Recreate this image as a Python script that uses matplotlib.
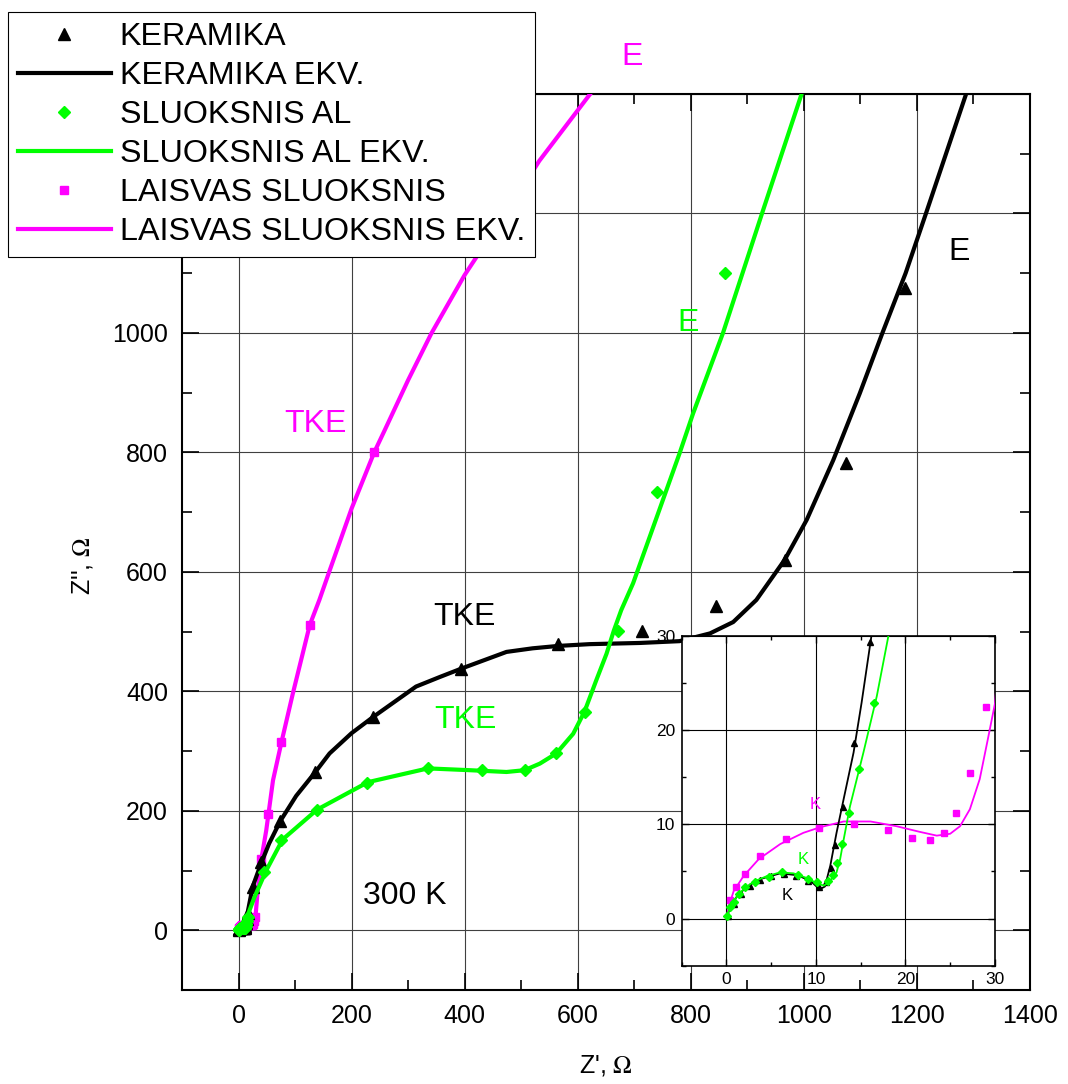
import matplotlib
matplotlib.use("Agg")
import matplotlib.pyplot as plt
from matplotlib.ticker import MultipleLocator

plt.rcParams['font.family'] = ['Liberation Sans', 'DejaVu Sans']
plt.rcParams['mathtext.fontset'] = 'stix'

GREEN = '#00ff00'
MAGENTA = '#ff00ff'

# KERAMIKA - measured points
ker_x = [0.2, 0.8, 1.6, 2.6, 3.7, 5.0, 6.4, 7.8, 9.1, 10.3, 11.1, 11.7, 12.1, 13.0, 14.2, 16.0,
         25, 39, 74, 136, 238, 394, 565, 713, 844, 966, 1075, 1179]
ker_y = [0.3, 1.5, 2.6, 3.5, 4.1, 4.5, 4.7, 4.5, 4.0, 3.4, 3.9, 5.4, 7.8, 11.8, 18.6, 29.3,
         72, 114, 183, 265, 357, 438, 479, 501, 543, 620, 782, 1075]

# KERAMIKA EKV. - equivalent circuit curve
ker_fit_x = [0, 0.45, 1.2, 2.3, 3.8, 6.0, 7.9, 9.4, 10.4, 11.0, 11.6, 12.3, 13.1, 14.2, 15.1, 16.2,
             25, 40, 54, 74, 102, 136, 161, 200, 238, 314, 356, 394, 474, 520, 565, 621, 710, 780,
             834, 875, 916, 966, 1005, 1052, 1099, 1139, 1180, 1216, 1287]
ker_fit_y = [0, 1.3, 2.4, 3.4, 4.2, 4.8, 4.6, 4.0, 3.1, 3.4, 5.6, 9.1, 12.7, 17.6, 22.9, 30.0,
             73, 112, 145, 183, 225, 265, 296, 330, 357, 408, 424, 438, 466, 472, 476, 479, 481, 484,
             497, 516, 553, 620, 687, 787, 899, 1000, 1100, 1200, 1400]

# SLUOKSNIS AL - measured points
al_x = [0.1, 0.4, 0.8, 1.4, 2.1, 3.2, 4.7, 6.2, 8.0, 9.1, 10.1, 11.3, 11.9, 12.3, 12.9, 13.7, 14.8, 16.5,
        45, 76, 138, 228, 335, 431, 506, 562, 612, 671, 741, 861]
al_y = [0.3, 1.2, 1.8, 2.6, 3.3, 3.9, 4.4, 4.9, 4.6, 4.2, 3.9, 4.0, 4.6, 5.9, 7.9, 11.2, 15.9, 22.9,
        97, 151, 202, 247, 271, 269, 268, 296, 366, 501, 734, 1101]

# SLUOKSNIS AL EKV.
al_fit_x = [0, 0.3, 0.9, 1.8, 3.0, 4.5, 6.0, 7.5, 9.0, 10.2, 10.9, 11.5, 12.3, 12.7, 13.1, 13.8, 15.3,
            16.8, 18.1, 28, 49, 78, 139, 229, 335, 409, 474, 506, 533, 562, 592, 612, 633, 651,
            664, 677, 698, 780, 804, 857, 926, 996]
al_fit_y = [0, 1.0, 2.0, 3.0, 3.9, 4.5, 4.9, 4.8, 4.3, 3.7, 3.5, 3.9, 4.9, 6.3, 8.4, 11.9, 17.6,
            23.6, 30, 55, 100, 152, 202, 248, 271, 268, 265, 268, 279, 296, 329, 366, 419, 463,
            502, 536, 581, 798, 865, 1000, 1200, 1400]

# LAISVAS SLUOKSNIS - measured points
las_x = [0.45, 1.1, 2.1, 3.8, 6.6, 10.3, 14.3, 18.0, 20.7, 22.7, 24.3, 25.6, 27.2, 29.0,
         40, 52, 76, 126, 240]
las_y = [2.0, 3.3, 4.7, 6.6, 8.4, 9.6, 10.0, 9.4, 8.5, 8.3, 9.1, 11.2, 15.4, 22.4,
         120, 194, 315, 511, 800]

# LAISVAS SLUOKSNIS EKV.
las_fit_x = [0, 0.26, 0.8, 1.9, 3.6, 6.0, 8.6, 10.5, 13.1, 16.1, 19.0, 21.6, 23.5, 25.0, 26.1, 27.2,
             28.3, 29.2, 30.0, 34, 40, 49, 61, 76, 96, 126, 143, 160, 200, 240, 259, 300, 341,
             400, 423, 480, 532, 622]
las_fit_y = [0, 1.3, 2.9, 4.5, 6.3, 7.9, 9.1, 9.7, 10.3, 10.3, 9.8, 9.2, 8.8, 9.0, 9.8, 11.6,
             14.8, 19.0, 22.8, 67, 117, 167, 251, 315, 396, 511, 553, 599, 706, 800, 838, 921, 999,
             1097, 1130, 1210, 1288, 1400]

fig = plt.figure(figsize=(10.68, 10.84), dpi=100)
ax = fig.add_axes([0.1704, 0.0867, 0.794, 0.8266])

l_las_fit, = ax.plot(las_fit_x, las_fit_y, color=MAGENTA, lw=3, zorder=3)
l_las, = ax.plot(las_x, las_y, 's', color=MAGENTA, ms=5.5, zorder=3)
l_ker_fit, = ax.plot(ker_fit_x, ker_fit_y, color='black', lw=3, zorder=4)
l_ker, = ax.plot(ker_x, ker_y, '^', color='black', ms=8.5, zorder=4)
l_al_fit, = ax.plot(al_fit_x, al_fit_y, color=GREEN, lw=3, zorder=5)
l_al, = ax.plot(al_x, al_y, 'D', color=GREEN, ms=6.5, zorder=5)

ax.set_xlim(-100, 1400)
ax.set_ylim(-100, 1400)
ax.xaxis.set_major_locator(MultipleLocator(200))
ax.xaxis.set_minor_locator(MultipleLocator(100))
ax.yaxis.set_major_locator(MultipleLocator(200))
ax.yaxis.set_minor_locator(MultipleLocator(100))
ax.tick_params(which='both', direction='in', top=True, right=True, labelsize=18, pad=10, width=1.2)
ax.tick_params(which='major', length=12)
ax.tick_params(which='minor', length=7)
ax.grid(True, which='major', color='#404040', linewidth=0.8)
ax.set_axisbelow(True)
for s in ax.spines.values():
    s.set_linewidth(1.5)

ax.set_xlabel("Z', $\\Omega$", fontsize=18)
ax.xaxis.set_label_coords(0.5, -0.070)
ax.set_ylabel("Z'', $\\Omega$", fontsize=18)
ax.yaxis.set_label_coords(-0.103, 0.474)

ax.text(697, 1462, 'E', color=MAGENTA, fontsize=23, ha='center', va='center', clip_on=False)
ax.text(1274, 1135, 'E', color='black', fontsize=23, ha='center', va='center')
ax.text(795, 1016, 'E', color=GREEN, fontsize=23, ha='center', va='center')
ax.text(136, 848, 'TKE', color=MAGENTA, fontsize=23, ha='center', va='center')
ax.text(400, 524, 'TKE', color='black', fontsize=23, ha='center', va='center')
ax.text(402, 352, 'TKE', color=GREEN, fontsize=23, ha='center', va='center')
ax.text(294, 57, '300 K', color='black', fontsize=23, ha='center', va='center')

# inset with the high frequency part
ins = fig.add_axes([0.6383, 0.1091, 0.2933, 0.3044])
ins.plot(las_fit_x, las_fit_y, color=MAGENTA, lw=1.3, zorder=3)
ins.plot(las_x, las_y, 's', color=MAGENTA, ms=4, zorder=3)
ins.plot(ker_fit_x, ker_fit_y, color='black', lw=1.3, zorder=4)
ins.plot(ker_x, ker_y, '^', color='black', ms=4, zorder=4)
ins.plot(al_fit_x, al_fit_y, color=GREEN, lw=1.3, zorder=5)
ins.plot(al_x, al_y, 'D', color=GREEN, ms=4, zorder=5)
ins.set_xlim(-5, 30)
ins.set_ylim(-5, 30)
ins.xaxis.set_major_locator(MultipleLocator(10))
ins.xaxis.set_minor_locator(MultipleLocator(5))
ins.yaxis.set_major_locator(MultipleLocator(10))
ins.yaxis.set_minor_locator(MultipleLocator(5))
ins.tick_params(which='both', direction='in', top=True, right=True, labelsize=12.5, pad=4.5, width=1)
ins.tick_params(which='major', length=5)
ins.tick_params(which='minor', length=3)
ins.grid(True, which='major', color='black', linewidth=0.8)
ins.set_axisbelow(True)
for s in ins.spines.values():
    s.set_linewidth(1.2)
ins.text(9.9, 12.1, 'K', color=MAGENTA, fontsize=12, ha='center', va='center')
ins.text(8.6, 6.3, 'K', color=GREEN, fontsize=12, ha='center', va='center')
ins.text(6.8, 2.4, 'K', color='black', fontsize=12, ha='center', va='center')

handles = [l_ker, l_ker_fit, l_al, l_al_fit, l_las, l_las_fit]
labels = ['KERAMIKA', 'KERAMIKA EKV.', 'SLUOKSNIS AL', 'SLUOKSNIS AL EKV.',
          'LAISVAS SLUOKSNIS', 'LAISVAS SLUOKSNIS EKV.']
leg = fig.legend(handles, labels, loc='upper left', bbox_to_anchor=(7.9 / 1068, 1 - 12.3 / 1084),
                 fontsize=23.2, frameon=True, fancybox=False, framealpha=1, edgecolor='black',
                 borderaxespad=0, borderpad=0.3, handlelength=2.9, handletextpad=0.27,
                 labelspacing=0.28, numpoints=1)
leg.get_frame().set_linewidth(0.8)

fig.savefig('out.png', dpi=100)
